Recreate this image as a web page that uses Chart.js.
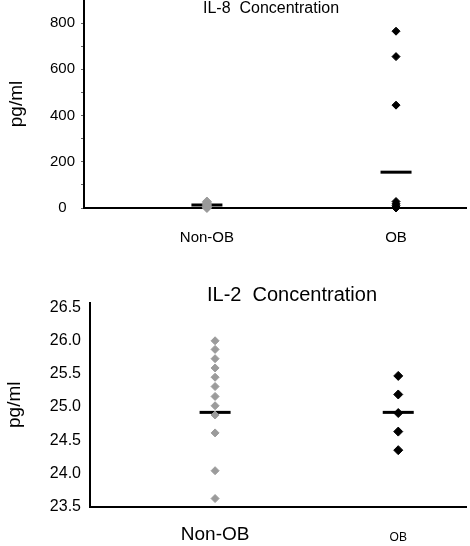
<!DOCTYPE html>
<html>
<head>
<meta charset="utf-8">
<script src="https://cdn.jsdelivr.net/npm/chart.js@4.4.1/dist/chart.umd.min.js"></script>
<style>
    html, body { margin: 0; padding: 0; background: #fff; }
    .panel { position: absolute; left: 0; width: 470px; }
</style>
</head>
<body>
<div class="panel" style="top:0;height:260px"><canvas id="il8Chart"></canvas></div>
<div class="panel" style="top:270px;height:276px"><canvas id="il2Chart"></canvas></div>
<script>
// ==================== DATOS ====================
const groups = ['Non-OB', 'OB'];

// IL-8 (pg/ml)
const il8NonOb = [28, 22, 16, 10, 6, 3, 0];
const il8Ob = [765, 655, 445, 28, 18, 10, 4, 0];
const il8Means = [13, 155];
const il8Ticks = [0, 200, 400, 600, 800];
const il8TickMarks = [0, 100, 200, 300, 400, 500, 600, 700, 800];

// IL-2 (pg/ml)
const il2NonOb = [26.0, 25.87, 25.73, 25.59, 25.45, 25.31, 25.16, 25.02, 24.88, 24.61, 24.04, 23.62];
const il2Ob = [25.47, 25.19, 24.91, 24.63, 24.35];
const il2Means = [24.92, 24.92];
const il2Ticks = [23.5, 24.0, 24.5, 25.0, 25.5, 26.0, 26.5];

const FONT = "Arial, 'Liberation Sans', sans-serif";
const GRAY = '#9b9b9b';

// ==================== UTILIDADES ====================
function toPoints(values, groupIndex) {
    return values.map(v => ({ x: groupIndex + 1, y: v }));
}

function meanPoints(values) {
    return values.map((v, i) => ({ x: i + 1, y: v }));
}

// titulo dibujado dentro del area (como en la figura original)
const panelTitle = {
    id: 'panelTitle',
    afterDraw(chart, args, opts) {
        const ctx = chart.ctx;
        ctx.save();
        ctx.font = opts.size + 'px ' + FONT;
        ctx.fillStyle = '#000';
        ctx.textAlign = 'center';
        ctx.textBaseline = 'middle';
        ctx.fillText(opts.text, opts.x, opts.y);
        ctx.restore();
    }
};

function noPadding(scale) {
    scale.paddingTop = 0;
    scale.paddingBottom = 0;
    scale.paddingLeft = 0;
    scale.paddingRight = 0;
}

function buildChart(id, cfg) {
    const ctx = document.getElementById(id).getContext('2d');
    return new Chart(ctx, {
        type: 'scatter',
        data: {
            datasets: [
                {
                    data: toPoints(cfg.nonOb, 0),
                    pointStyle: 'rectRot',
                    radius: cfg.grayRadius,
                    backgroundColor: GRAY,
                    borderColor: GRAY,
                    borderWidth: 1,
                    clip: false
                },
                {
                    data: toPoints(cfg.ob, 1),
                    pointStyle: 'rectRot',
                    radius: cfg.blackRadius,
                    backgroundColor: '#000',
                    borderColor: '#000',
                    borderWidth: 1,
                    clip: false
                },
                {
                    data: meanPoints(cfg.means),
                    pointStyle: 'line',
                    radius: 15.5,
                    borderColor: '#000',
                    borderWidth: 3,
                    clip: false
                }
            ]
        },
        options: {
            responsive: true,
            maintainAspectRatio: false,
            animation: false,
            events: [],
            layout: {
                autoPadding: false,
                padding: { top: cfg.top, right: 4, left: 0, bottom: 0 }
            },
            plugins: {
                legend: { display: false },
                tooltip: { enabled: false },
                panelTitle: cfg.title
            },
            scales: {
                x: {
                    type: 'linear',
                    min: cfg.xMin,
                    max: 2.37,
                    afterBuildTicks: scale => { scale.ticks = groups.map((g, i) => ({ value: i + 1 })); },
                    afterFit: scale => { scale.height = cfg.xHeight; noPadding(scale); },
                    grid: { display: false, drawTicks: false },
                    border: { display: true, color: '#000', width: 2 },
                    ticks: {
                        padding: cfg.xPad,
                        color: '#000',
                        maxRotation: 0,
                        autoSkip: false,
                        font: cfg.xFont,
                        callback: (value, index) => groups[index]
                    }
                },
                y: {
                    min: cfg.yMin,
                    max: cfg.yMax,
                    afterBuildTicks: scale => { scale.ticks = cfg.marks.map(v => ({ value: v })); },
                    afterFit: scale => { scale.width = cfg.yWidth; noPadding(scale); },
                    grid: {
                        display: cfg.tickLen > 0,
                        drawOnChartArea: false,
                        drawTicks: cfg.tickLen > 0,
                        tickLength: cfg.tickLen,
                        color: '#666'
                    },
                    border: { display: true, color: '#000', width: 2 },
                    title: {
                        display: true,
                        text: 'pg/ml',
                        color: '#000',
                        font: { family: FONT, size: 19 },
                        padding: { top: cfg.yTitlePad, bottom: 0 }
                    },
                    ticks: {
                        padding: cfg.yPad,
                        color: '#000',
                        autoSkip: false,
                        crossAlign: cfg.crossAlign,
                        font: { family: FONT, size: cfg.yFontSize },
                        callback: v => cfg.ticks.includes(v) ? cfg.tickFormat(v) : ''
                    }
                }
            }
        },
        plugins: [panelTitle]
    });
}

// ==================== GRAFICOS ====================
buildChart('il8Chart', {
    nonOb: il8NonOb, ob: il8Ob, means: il8Means, ticks: il8Ticks, marks: il8TickMarks,
    yMin: 0, yMax: 900, xMin: 0.35,
    top: 0, yWidth: 84, xHeight: 52, xPad: 21, yPad: 6, tickLen: 3,
    crossAlign: 'center', yFontSize: 15, yTitlePad: 5.6,
    grayRadius: 4.5, blackRadius: 4,
    xFont: { family: FONT, size: 15 },
    tickFormat: v => String(v),
    title: { text: 'IL-8  Concentration', x: 271, y: 9, size: 16 }
});

buildChart('il2Chart', {
    nonOb: il2NonOb, ob: il2Ob, means: il2Means, ticks: il2Ticks, marks: il2Ticks,
    yMin: 23.5, yMax: 26.57, xMin: 0.317,
    top: 33, yWidth: 90, xHeight: 39.5, xPad: 17, yPad: 9, tickLen: 0,
    crossAlign: 'near', yFontSize: 16, yTitlePad: 3.6,
    grayRadius: 4, blackRadius: 4.5,
    xFont: ctx => ctx.index === 0
        ? { family: FONT, size: 19 }
        : { family: FONT, size: 12, lineHeight: 2.4 },
    tickFormat: v => v.toFixed(1),
    title: { text: 'IL-2  Concentration', x: 292, y: 25, size: 20 }
});
</script>
</body>
</html>
